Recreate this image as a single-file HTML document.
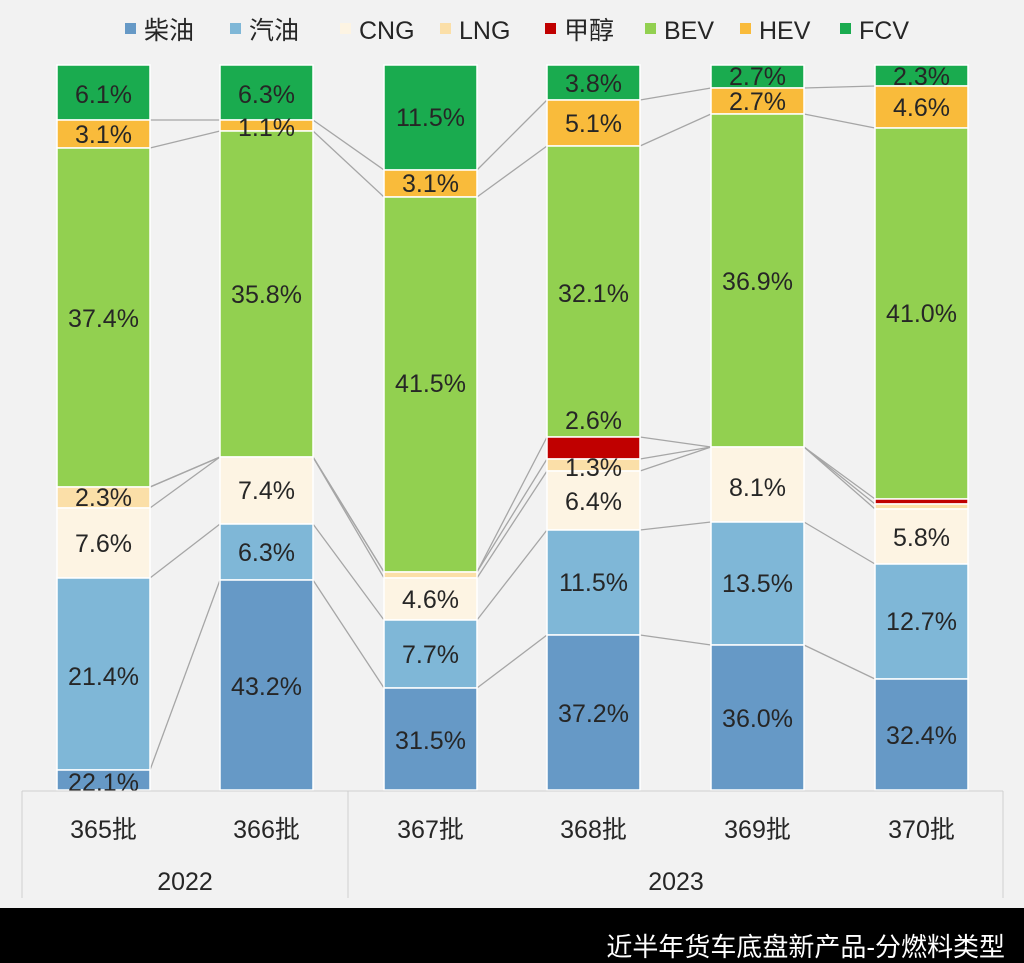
<!DOCTYPE html>
<html><head><meta charset="utf-8"><style>
html,body{margin:0;padding:0;background:#f2f2f2;}
svg{display:block}
text{font-family:"Liberation Sans","Noto Sans CJK SC",sans-serif;fill:#262626}
</style></head><body>
<svg id="s" width="1024" height="963" xmlns="http://www.w3.org/2000/svg">
<rect width="1024" height="963" fill="#f2f2f2"/>
</svg>
<script>
const C=['#6699c6','#7fb7d7','#fdf4e3','#fbdfa8','#c00000','#92d050','#f9bb3b','#1aab4f'];
const names=['柴油','汽油','CNG','LNG','甲醇','BEV','HEV','FCV'];
const xs=[57,220,384,547,711,875],W=93;
// boundaries top->bottom per bar for series FCV..柴油 (index 7..0); each array is segment tops from FCV down, ending with 790
const segs=[
 [[7,65,120],[6,120,148],[5,148,487],[3,487,508],[2,508,578],[1,578,770],[0,770,790]],
 [[7,65,120],[6,120,131],[5,131,457],[2,457,524],[1,524,580],[0,580,790]],
 [[7,65,170],[6,170,197],[5,197,572],[3,572,578],[2,578,620],[1,620,688],[0,688,790]],
 [[7,65,100],[6,100,146],[5,146,437],[4,437,459],[3,459,471],[2,471,530],[1,530,635],[0,635,790]],
 [[7,65,88],[6,88,114],[5,114,447],[2,447,522],[1,522,645],[0,645,790]],
 [[7,65,86],[6,86,128],[5,128,499],[4,499,504],[3,504,509],[2,509,564],[1,564,679],[0,679,790]]
];
const labels=[
 [['6.1%',94],['3.1%',134],['37.4%',318],['2.3%',497],['7.6%',543],['21.4%',676],['22.1%',782]],
 [['6.3%',94],['1.1%',127],['35.8%',294],['7.4%',490],['6.3%',552],['43.2%',686]],
 [['11.5%',117],['3.1%',183],['41.5%',383],['4.6%',599],['7.7%',654],['31.5%',740]],
 [['3.8%',83],['5.1%',123],['32.1%',293],['2.6%',420],['1.3%',467],['6.4%',501],['11.5%',582],['37.2%',713]],
 [['2.7%',76],['2.7%',101],['36.9%',281],['8.1%',487],['13.5%',583],['36.0%',718]],
 [['2.3%',76],['4.6%',107],['41.0%',313],['5.8%',537],['12.7%',621],['32.4%',735]]
];
let h='';
// connectors
function bnd(b){const m={};segs[b].forEach(s=>{m[s[0]]=s[2];});return m;}
for(let b=0;b<5;b++){
 const a=bnd(b),c=bnd(b+1);
 for(let k=1;k<8;k++){
  // boundary below series k = cumulative bottom of series >=k... use top of series k-1 region: find y where cumulative from bottom of series <k ends
  const ya=cum(b,k),yc=cum(b+1,k);
  if(ya<789||yc<789) h+=`<line x1="${xs[b]+W}" y1="${ya}" x2="${xs[b+1]}" y2="${yc}" stroke="#a6a6a6" stroke-width="1.3"/>`;
 }
}
function cum(b,k){let y=790;segs[b].forEach(s=>{if(s[0]<k&&s[1]<y)y=s[1];});return y;}
segs.forEach((bar,b)=>{bar.forEach(s=>{h+=`<rect x="${xs[b]}" y="${s[1]}" width="${W}" height="${s[2]-s[1]}" fill="${C[s[0]]}" stroke="#fff" stroke-width="1.5"/>`;});});
labels.forEach((L,b)=>{L.forEach(l=>{h+=`<text x="${xs[b]+W/2}" y="${l[1]+9}" font-size="25" text-anchor="middle">${l[0]}</text>`;});});
// axis
h+=`<line x1="22" y1="791" x2="1003" y2="791" stroke="#d0d0d0"/>`;
[22,348,1003].forEach(x=>h+=`<line x1="${x}" y1="791" x2="${x}" y2="898" stroke="#d0d0d0"/>`);
['365批','366批','367批','368批','369批','370批'].forEach((t,i)=>h+=`<text x="${xs[i]+W/2}" y="838" font-size="25" text-anchor="middle">${t}</text>`);
h+=`<text x="185" y="890" font-size="25" text-anchor="middle">2022</text><text x="676" y="890" font-size="25" text-anchor="middle">2023</text>`;
// legend
const lx=[125,230,340,440,545,645,740,840];
names.forEach((n,i)=>{h+=`<rect x="${lx[i]}" y="23" width="11" height="11" fill="${C[i]}"/><text x="${lx[i]+19}" y="39" font-size="25">${n}</text>`;});
// bottom band
h+=`<rect x="0" y="908" width="1024" height="55" fill="#000"/><text x="1005" y="956" font-size="26" text-anchor="end" style="fill:#fff">近半年货车底盘新产品-分燃料类型</text>`;
document.getElementById('s').insertAdjacentHTML('beforeend',h);
</script>
</body></html>
